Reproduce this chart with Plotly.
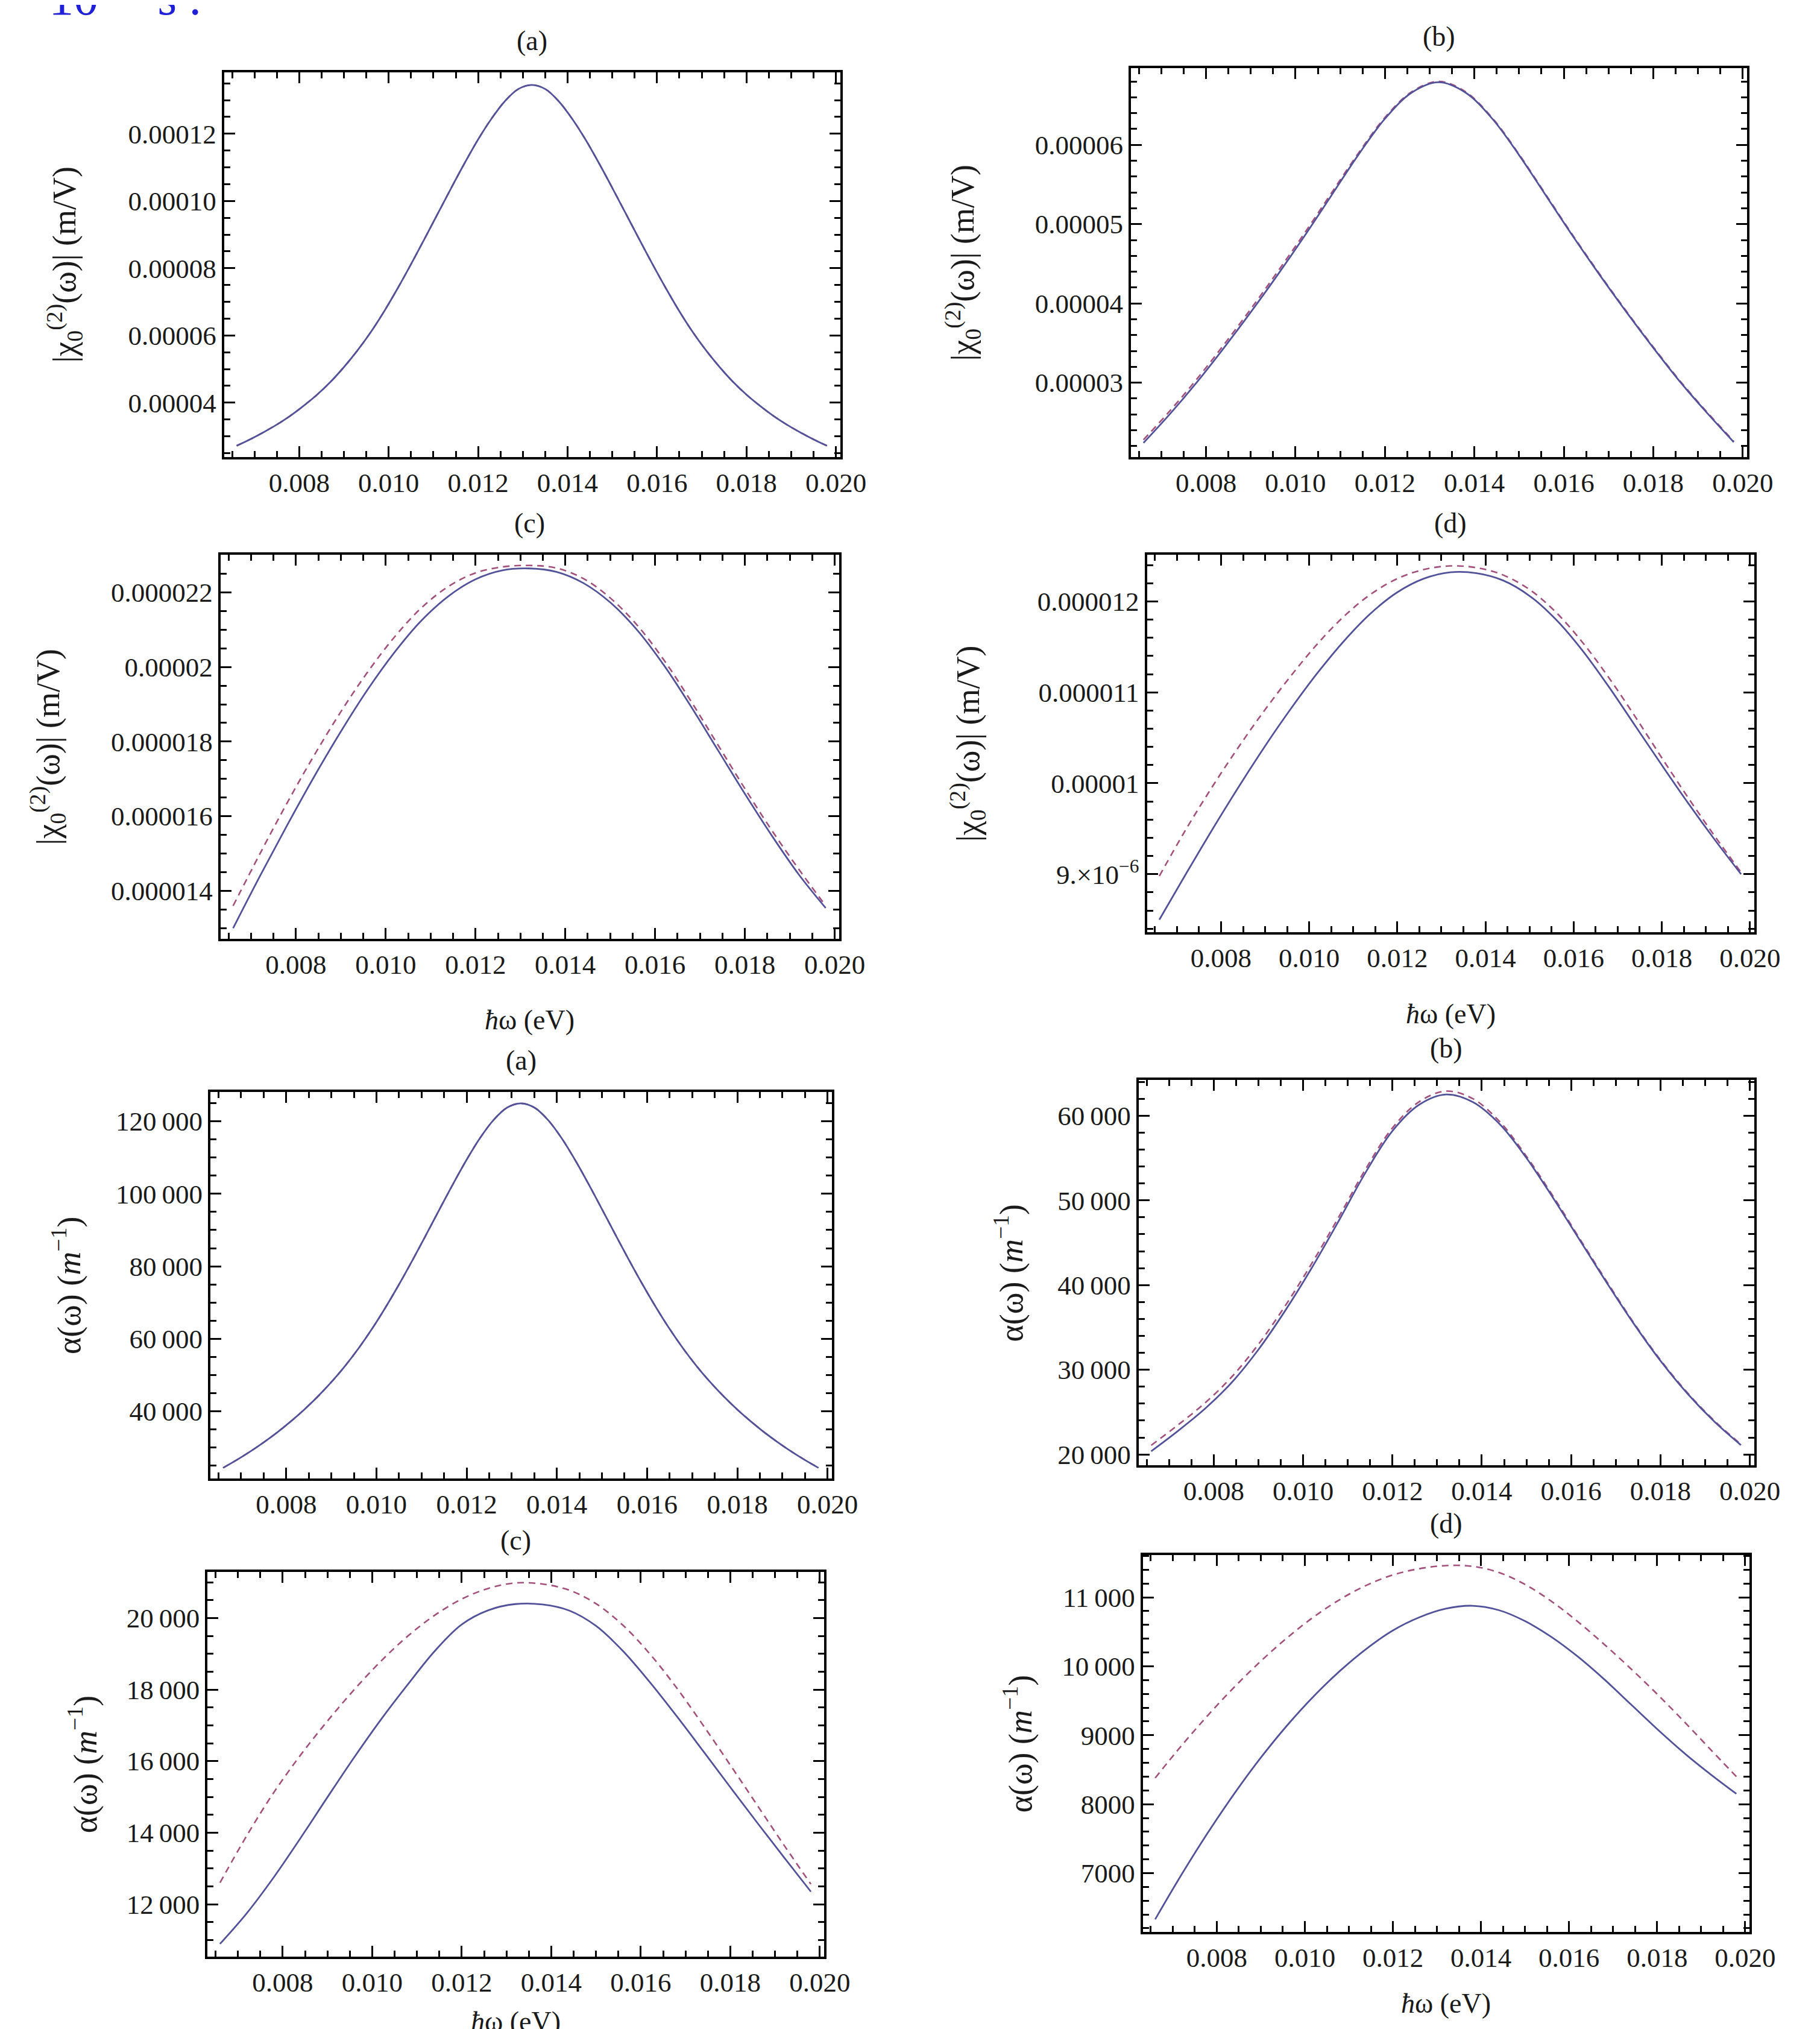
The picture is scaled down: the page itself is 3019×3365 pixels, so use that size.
import numpy as np
import plotly.graph_objects as go

# ---------------- data ----------------
# photon energy grid (eV) for the broad curves
hw = [0.0066, 0.0072, 0.0078, 0.0084, 0.0090, 0.0096, 0.0102, 0.0108, 0.0114, 0.0120, 0.0126, 0.0132,
      0.0138, 0.0144, 0.0150, 0.0156, 0.0162, 0.0168, 0.0174, 0.0180, 0.0186, 0.0192, 0.0198]
# finer grid for the two sharp resonances (a)
hw_fine = [0.0066, 0.0069, 0.0072, 0.0075, 0.0078, 0.0081, 0.0084, 0.0087, 0.0090, 0.0093, 0.0096,
           0.0099, 0.0102, 0.0105, 0.0108, 0.0111, 0.0114, 0.0117, 0.0120, 0.0123, 0.0126, 0.0129,
           0.0132, 0.0135, 0.0138, 0.0141, 0.0144, 0.0147, 0.0150, 0.0153, 0.0156, 0.0159, 0.0162,
           0.0165, 0.0168, 0.0171, 0.0174, 0.0177, 0.0180, 0.0183, 0.0186, 0.0189, 0.0192, 0.0195,
           0.0198]

# |chi| in units of 1e-5 m/V
chi_a_solid = [2.72, 2.91, 3.12, 3.35, 3.61, 3.91, 4.24, 4.62, 5.06, 5.55, 6.10, 6.72, 7.40, 8.12,
               8.87, 9.63, 10.39, 11.13, 11.83, 12.45, 12.97, 13.33, 13.45, 13.33, 12.97, 12.45,
               11.83, 11.13, 10.39, 9.63, 8.87, 8.12, 7.40, 6.72, 6.10, 5.55, 5.06, 4.62, 4.24,
               3.91, 3.61, 3.35, 3.12, 2.91, 2.72]
chi_a_dash = chi_a_solid

chi_b_solid = [2.24, 2.61, 3.01, 3.44, 3.89, 4.36, 4.85, 5.36, 5.87, 6.33, 6.66, 6.79,
               6.66, 6.33, 5.87, 5.36, 4.85, 4.36, 3.89, 3.44, 3.01, 2.62, 2.25]
chi_b_dash = [2.28, 2.65, 3.05, 3.48, 3.93, 4.40, 4.885, 5.39, 5.89, 6.345, 6.67, 6.80,
              6.67, 6.34, 5.88, 5.37, 4.86, 4.37, 3.90, 3.45, 3.02, 2.63, 2.26]

chi_c_solid = [1.30, 1.44, 1.575, 1.705, 1.827, 1.94, 2.04, 2.125, 2.19, 2.235, 2.259, 2.264,
               2.255, 2.225, 2.173, 2.099, 2.004, 1.894, 1.777, 1.660, 1.548, 1.444, 1.354]
chi_c_dash = [1.36, 1.50, 1.635, 1.762, 1.88, 1.987, 2.081, 2.159, 2.216, 2.252, 2.268, 2.272,
              2.265, 2.237, 2.185, 2.112, 2.018, 1.908, 1.791, 1.674, 1.562, 1.458, 1.36]

chi_d_solid = [0.850, 0.900, 0.949, 0.996, 1.041, 1.083, 1.122, 1.157, 1.187, 1.210, 1.225, 1.232,
               1.231, 1.223, 1.206, 1.180, 1.146, 1.106, 1.063, 1.020, 0.978, 0.938, 0.900]
chi_d_dash = [0.898, 0.949, 0.996, 1.040, 1.081, 1.119, 1.154, 1.184, 1.208, 1.225, 1.235, 1.239,
              1.237, 1.229, 1.213, 1.188, 1.155, 1.116, 1.073, 1.028, 0.984, 0.942, 0.902]

# alpha in m^-1
alpha_a_solid = [24380, 26550, 28880, 31420, 34170, 37190, 40470, 44070, 48040, 52430, 57300,
                 62700, 68620, 74970, 81690, 88670, 95760, 102740, 109410, 115440, 120410,
                 123800, 124960, 123800, 120410, 115440, 109410, 102740, 95760, 88670, 81690,
                 74970, 68620, 62700, 57300, 52430, 48040, 44070, 40470, 37190, 34170, 31420,
                 28880, 26550, 24380]
alpha_a_dash = alpha_a_solid

alpha_b_solid = [20380, 22780, 25380, 28480, 32380, 36980, 42080, 47600, 53300, 58200, 61300, 62500,
                 61600, 59000, 55000, 50250, 45250, 40250, 35450, 31050, 27200, 23900, 21100]
alpha_b_dash = [21080, 23480, 26060, 29140, 33000, 37550, 42600, 48050, 53700, 58550, 61650, 62900,
                62000, 59300, 55200, 50450, 45400, 40400, 35550, 31150, 27300, 24000, 21200]

alpha_c_solid = [10890, 11750, 12750, 13850, 14990, 16110, 17170, 18150, 19080, 19820, 20220, 20390,
                 20380, 20210, 19780, 19080, 18210, 17260, 16270, 15270, 14280, 13310, 12350]
alpha_c_dash = [12600, 13920, 15120, 16170, 17120, 18000, 18800, 19500, 20080, 20530, 20830, 20980,
                20950, 20780, 20400, 19800, 19000, 18050, 16990, 15890, 14770, 13650, 12560]

alpha_d_solid = [6330, 6980, 7590, 8155, 8675, 9145, 9565, 9935, 10255, 10520, 10710, 10835,
                 10878, 10815, 10655, 10425, 10140, 9810, 9450, 9090, 8750, 8440, 8150]
alpha_d_dash = [8380, 8850, 9290, 9700, 10075, 10415, 10715, 10970, 11175, 11325, 11415, 11460,
                11450, 11362, 11187, 10942, 10647, 10317, 9967, 9597, 9207, 8802, 8400]

x_tickvals = [0.008, 0.010, 0.012, 0.014, 0.016, 0.018, 0.020]
x_ticktext = ["0.008", "0.010", "0.012", "0.014", "0.016", "0.018", "0.020"]

chi_a_ticks = ([4e-5, 6e-5, 8e-5, 1e-4, 1.2e-4], ["0.00004", "0.00006", "0.00008", "0.00010", "0.00012"])
chi_b_ticks = ([3e-5, 4e-5, 5e-5, 6e-5], ["0.00003", "0.00004", "0.00005", "0.00006"])
chi_c_ticks = ([1.4e-5, 1.6e-5, 1.8e-5, 2.0e-5, 2.2e-5],
               ["0.000014", "0.000016", "0.000018", "0.00002", "0.000022"])
chi_d_ticks = ([9e-6, 1e-5, 1.1e-5, 1.2e-5],
               ["9.\u00d710<sup>\u22126</sup>", "0.00001", "0.000011", "0.000012"])
alpha_a_ticks = ([40000, 60000, 80000, 100000, 120000],
                 ["40\u2009000", "60\u2009000", "80\u2009000", "100\u2009000", "120\u2009000"])
alpha_b_ticks = ([20000, 30000, 40000, 50000, 60000],
                 ["20\u2009000", "30\u2009000", "40\u2009000", "50\u2009000", "60\u2009000"])
alpha_c_ticks = ([12000, 14000, 16000, 18000, 20000],
                 ["12\u2009000", "14\u2009000", "16\u2009000", "18\u2009000", "20\u2009000"])
alpha_d_ticks = ([7000, 8000, 9000, 10000, 11000],
                 ["7000", "8000", "9000", "10\u2009000", "11\u2009000"])

CHI_LABEL = "|\u03c7<sub>0</sub><sup>(2)</sup>(\u03c9)| (m/V)"
ALPHA_LABEL = "\u03b1(\u03c9) (<i>m</i><sup>\u22121</sup>)"
X_LABEL = "<i>\u0127</i>\u03c9 (eV)"

# ---------------- layout / styling ----------------
W, H = 3019, 3365
FONT = "Liberation Serif"
SOLID_C = "#52529a"
DASH_C = "#a4507c"

panels = [
    dict(x=hw_fine, s=chi_a_solid, d=chi_a_dash, k=1e-5, box=(369, 1406, 112, 752),
         yr=(2.38e-5, 1.383e-4), ticks=chi_a_ticks, minor=5e-6, title="(a)",
         ylab=CHI_LABEL, ylx=100, xl=None),
    dict(x=hw, s=chi_b_solid, d=chi_b_dash, k=1e-5, box=(1895, 2932, 105, 752),
         yr=(2.06e-5, 6.97e-5), ticks=chi_b_ticks, minor=2e-6, title="(b)",
         ylab=CHI_LABEL, ylx=1612, xl=None),
    dict(x=hw, s=chi_c_solid, d=chi_c_dash, k=1e-5, box=(363, 1404, 914, 1553),
         yr=(1.271e-5, 2.301e-5), ticks=chi_c_ticks, minor=5e-7, title="(c)",
         ylab=CHI_LABEL, ylx=72, xl=1688),
    dict(x=hw, s=chi_d_solid, d=chi_d_dash, k=1e-5, box=(1922, 2944, 914, 1542),
         yr=(8.36e-6, 1.2514e-5), ticks=chi_d_ticks, minor=2e-7, title="(d)",
         ylab=CHI_LABEL, ylx=1620, xl=1677),
    dict(x=hw_fine, s=alpha_a_solid, d=alpha_a_dash, k=1, box=(346, 1392, 1807, 2450),
         yr=(21420, 128140), ticks=alpha_a_ticks, minor=5000, title="(a)",
         ylab=ALPHA_LABEL, ylx=104, xl=None),
    dict(x=hw, s=alpha_b_solid, d=alpha_b_dash, k=1, box=(1908, 2944, 1787, 2428),
         yr=(18710, 64240), ticks=alpha_b_ticks, minor=2000, title="(b)",
         ylab=ALPHA_LABEL, ylx=1690, xl=None),
    dict(x=hw, s=alpha_c_solid, d=alpha_c_dash, k=1, box=(341, 1379, 2605, 3245),
         yr=(10529, 21291), ticks=alpha_c_ticks, minor=500, title="(c)",
         ylab=ALPHA_LABEL, ylx=131, xl=3352),
    dict(x=hw, s=alpha_d_solid, d=alpha_d_dash, k=1, box=(1915, 2936, 2577, 3204),
         yr=(6144, 11614), ticks=alpha_d_ticks, minor=200, title="(d)",
         ylab=ALPHA_LABEL, ylx=1705, xl=3322),
]

XR = (0.00632, 0.0201)

fig = go.Figure()
layout = dict(width=W, height=H, margin=dict(l=0, r=0, t=0, b=0),
              paper_bgcolor="white", plot_bgcolor="white", showlegend=False)
annotations = []

tickfont = dict(family=FONT, size=45, color="#1a1a1a")

for i, p in enumerate(panels):
    n = "" if i == 0 else str(i + 1)
    L, R, T, B = p["box"]
    xd = [L / W, R / W]
    yd = [1 - B / H, 1 - T / H]
    xa, ya = "x" + n, "y" + n
    k = p["k"]

    fig.add_trace(go.Scatter(x=p["x"], y=[v * k for v in p["d"]], mode="lines", xaxis=xa, yaxis=ya,
                             line=dict(color=DASH_C, width=2.6, dash="11px,8px", shape="spline",
                                       smoothing=1.0)))
    fig.add_trace(go.Scatter(x=p["x"], y=[v * k for v in p["s"]], mode="lines", xaxis=xa, yaxis=ya,
                             line=dict(color=SOLID_C, width=2.8, shape="spline", smoothing=1.0)))

    xminor = list(np.arange(0.0065, 0.02001, 0.0005))
    y0, y1 = p["yr"]
    ms = p["minor"]
    yminor = list(np.arange(np.ceil(y0 / ms) * ms, y1, ms))

    layout["xaxis" + n] = dict(
        domain=xd, anchor=ya, range=list(XR), showgrid=False, zeroline=False,
        showline=True, linecolor="black", linewidth=4, mirror="allticks",
        ticks="inside", ticklen=18, tickwidth=3, tickcolor="black",
        tickmode="array", tickvals=x_tickvals, ticktext=x_ticktext, tickfont=tickfont,
        minor=dict(tickmode="array", tickvals=xminor, ticks="inside", ticklen=10,
                   tickwidth=2.5, tickcolor="black", showgrid=False),
    )
    layout["yaxis" + n] = dict(
        domain=yd, anchor=xa, range=[y0, y1], showgrid=False, zeroline=False,
        showline=True, linecolor="black", linewidth=4, mirror="allticks",
        ticks="inside", ticklen=18, tickwidth=3, tickcolor="black",
        tickmode="array", tickvals=p["ticks"][0], ticktext=p["ticks"][1], tickfont=tickfont,
        minor=dict(tickmode="array", tickvals=yminor, ticks="inside", ticklen=10,
                   tickwidth=2.5, tickcolor="black", showgrid=False),
    )

    annotations.append(dict(text=p["title"], x=(L + R) / 2 / W, y=1 - (T - 52) / H,
                            xref="paper", yref="paper", showarrow=False,
                            xanchor="center", yanchor="middle",
                            font=dict(family=FONT, size=46, color="#1a1a1a")))
    annotations.append(dict(text=p["ylab"], x=p["ylx"] / W, y=1 - (T + B) / 2 / H,
                            xref="paper", yref="paper", showarrow=False, textangle=-90,
                            xanchor="center", yanchor="middle",
                            font=dict(family=FONT, size=54, color="#1a1a1a")))
    if p["xl"] is not None:
        annotations.append(dict(text=X_LABEL, x=(L + R) / 2 / W, y=1 - p["xl"] / H,
                                xref="paper", yref="paper", showarrow=False,
                                xanchor="center", yanchor="middle",
                                font=dict(family=FONT, size=46, color="#1a1a1a")))

annotations.append(dict(text="=\u2009 10<sup>\u22128</sup>\u2009 s .", x=-0.004, y=1 - 36 / H,
                        xref="paper", yref="paper", showarrow=False,
                        xanchor="left", yanchor="bottom",
                        font=dict(family=FONT, size=82, color="#2020d8")))

layout["annotations"] = annotations
fig.update_layout(**layout)
fig.write_html("out.html")
